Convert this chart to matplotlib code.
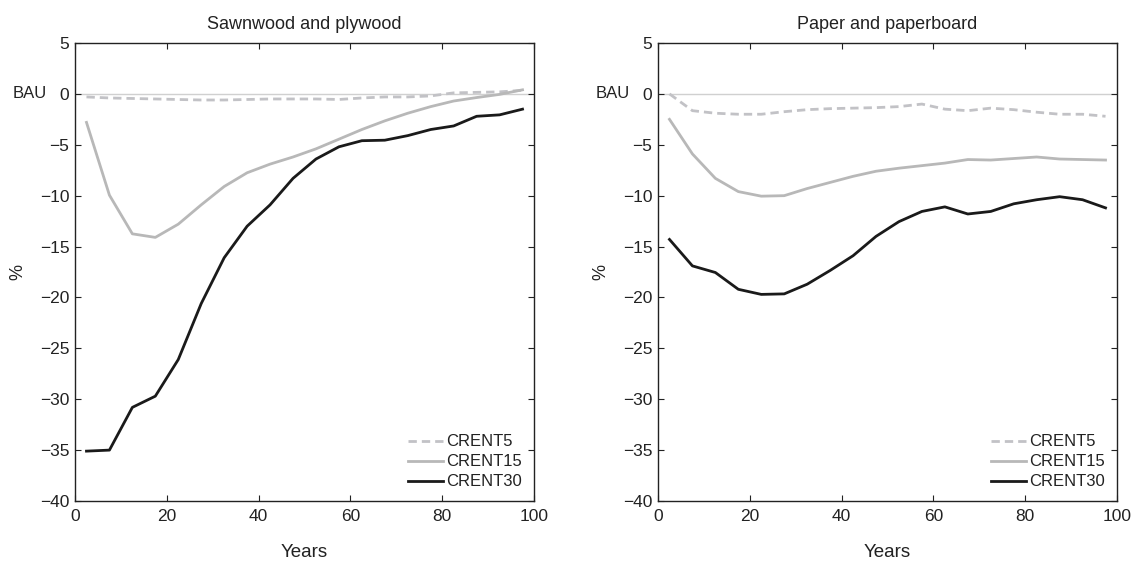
import matplotlib.pyplot as plt
import matplotlib.transforms as mtransforms

plt.rcParams['font.family'] = ['Liberation Sans', 'DejaVu Sans']

years = [2.5, 7.5, 12.5, 17.5, 22.5, 27.5, 32.5, 37.5, 42.5, 47.5,
         52.5, 57.5, 62.5, 67.5, 72.5, 77.5, 82.5, 87.5, 92.5, 97.5]

# Sawnwood and plywood
saw_crent5 = [-0.3, -0.4, -0.45, -0.5, -0.55, -0.6, -0.6, -0.55, -0.5, -0.5,
              -0.5, -0.55, -0.4, -0.3, -0.3, -0.2, 0.1, 0.15, 0.2, 0.35]
saw_crent15 = [-2.8, -9.95, -13.75, -14.1, -12.8, -10.9, -9.1, -7.75, -6.9, -6.2,
               -5.4, -4.45, -3.5, -2.65, -1.9, -1.25, -0.7, -0.36, -0.05, 0.4]
saw_crent30 = [-35.1, -35.0, -30.8, -29.7, -26.1, -20.6, -16.1, -13.0, -10.9, -8.3,
               -6.4, -5.2, -4.6, -4.55, -4.1, -3.5, -3.15, -2.2, -2.06, -1.5]

# Paper and paperboard
pap_crent5 = [0.0, -1.65, -1.9, -2.0, -2.0, -1.75, -1.55, -1.45, -1.4, -1.35,
              -1.25, -1.0, -1.5, -1.65, -1.4, -1.55, -1.8, -2.0, -2.0, -2.2]
pap_crent15 = [-2.5, -5.9, -8.3, -9.6, -10.05, -10.0, -9.3, -8.7, -8.1, -7.6,
               -7.3, -7.05, -6.8, -6.45, -6.5, -6.35, -6.2, -6.4, -6.45, -6.5]
pap_crent30 = [-14.3, -16.9, -17.55, -19.2, -19.7, -19.65, -18.7, -17.35, -15.9, -14.0,
               -12.55, -11.55, -11.1, -11.8, -11.55, -10.8, -10.4, -10.1, -10.4, -11.2]

panels = [
    ('Sawnwood and plywood', saw_crent5, saw_crent15, saw_crent30),
    ('Paper and paperboard', pap_crent5, pap_crent15, pap_crent30),
]

text_col = '#222222'
fig = plt.figure(figsize=(11.31, 5.65), dpi=100)
lefts = [75 / 1131, 658 / 1131]

for left, (title, c5, c15, c30) in zip(lefts, panels):
    ax = fig.add_axes([left, 64 / 565, 459 / 1131, 458 / 565])
    ax.axhline(0, color='#d0d0d0', lw=1, zorder=1)
    ax.plot(years, c5, color='#c2c2c6', lw=2, ls=(0, (3, 1.8)), label='CRENT5')
    ax.plot(years, c15, color='#b8b8b8', lw=2, label='CRENT15')
    ax.plot(years, c30, color='#1a1a1a', lw=2, label='CRENT30')

    ax.set_xlim(0, 100)
    ax.set_ylim(-40, 5)
    ax.set_xticks(range(0, 101, 20))
    ax.set_yticks(range(-40, 6, 5))
    ax.tick_params(direction='in', top=True, right=True, length=4,
                   labelsize=12.5, colors=text_col, pad=4)
    ax.tick_params(axis='x', pad=6)
    for s in ax.spines.values():
        s.set_color('#222222')
        s.set_linewidth(1)

    ax.set_title(title, fontsize=13, color=text_col, pad=10)
    ax.set_xlabel('Years', fontsize=13.5, color=text_col, labelpad=14)
    ax.set_ylabel('%', fontsize=13, color=text_col, labelpad=10)

    trans = mtransforms.blended_transform_factory(ax.transAxes, ax.transData)
    ax.text(-0.135, 0, 'BAU', transform=trans, ha='left', va='center',
            fontsize=12, color=text_col)

    ax.legend(loc='lower right', frameon=False, fontsize=12, handlelength=2.1,
              labelspacing=0.3, handletextpad=0.2, borderaxespad=0.3,
              labelcolor=text_col)

fig.savefig('out.png', dpi=100)
